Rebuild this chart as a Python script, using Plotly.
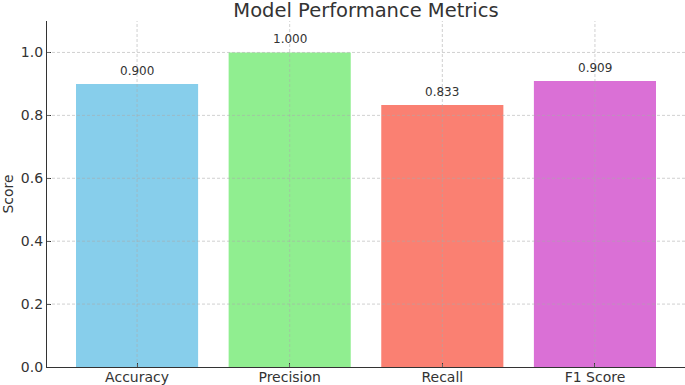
import plotly.graph_objects as go

metrics = ["Accuracy", "Precision", "Recall", "F1 Score"]
scores = [0.900, 1.000, 0.833, 0.909]
colors = ["#87CEEB", "#90EE90", "#FA8072", "#DA70D6"]
y_ticks = [0.0, 0.2, 0.4, 0.6, 0.8, 1.0]

font_family = "DejaVu Sans, sans-serif"
text_color = "#333333"
grid_color = "rgba(170,170,170,0.55)"
x_range = [-0.59, 3.59]
y_range = [0, 1.1]

fig = go.Figure()
fig.add_trace(go.Bar(
    x=list(range(len(metrics))),
    y=scores,
    width=0.8,
    marker=dict(color=colors, line=dict(width=0)),
    hoverinfo="skip",
))

for i, s in enumerate(scores):
    fig.add_annotation(
        x=i, y=s + 0.02, text=f"{s:.3f}", showarrow=False,
        xanchor="center", yanchor="bottom", yshift=-2,
        font=dict(family=font_family, size=12, color=text_color),
    )

# dashed grid drawn above bars (as in reference)
for v in y_ticks[1:]:
    fig.add_shape(type="line", xref="x", yref="y", x0=x_range[0], x1=x_range[1],
                  y0=v, y1=v, layer="above",
                  line=dict(color=grid_color, width=1, dash="3px,2px"))
for i in range(len(metrics)):
    fig.add_shape(type="line", xref="x", yref="y", x0=i, x1=i,
                  y0=y_range[0], y1=y_range[1], layer="above",
                  line=dict(color=grid_color, width=1, dash="3px,2px"))

fig.update_layout(
    width=685, height=385,
    margin=dict(l=47, r=0, t=21, b=18, autoexpand=False),
    paper_bgcolor="white", plot_bgcolor="white",
    showlegend=False,
    title=dict(
        text="Model Performance Metrics",
        x=0.5, xanchor="center",
        xref="paper", yref="container",
        y=1 - 10 / 385, yanchor="middle",
        font=dict(family=font_family, size=19.5, color=text_color),
        pad=dict(t=0, b=0, l=0, r=0),
    ),
    font=dict(family=font_family, color=text_color),
)

fig.update_xaxes(
    range=x_range, automargin=False,
    tickmode="array", tickvals=list(range(len(metrics))), ticktext=metrics,
    tickfont=dict(size=14, color=text_color),
    showline=True, linecolor="#333333", linewidth=1.2,
    ticks="inside", ticklen=4, tickcolor="#333333", tickwidth=1,
    ticklabelstandoff=-3,
    showgrid=False, zeroline=False, layer="above traces",
)
fig.update_yaxes(
    range=y_range, automargin=False,
    tickmode="array", tickvals=y_ticks, ticktext=[f"{v:.1f}" for v in y_ticks],
    tickfont=dict(size=14, color=text_color),
    title=dict(text="Score", font=dict(size=14, color=text_color), standoff=4),
    showline=True, linecolor="#333333", linewidth=1.2,
    ticks="inside", ticklen=4, tickcolor="#333333", tickwidth=1,
    showgrid=False, zeroline=False, layer="above traces",
)

fig.write_html("out.html", config={"displayModeBar": False},
               post_script="document.body.style.margin='0';")
